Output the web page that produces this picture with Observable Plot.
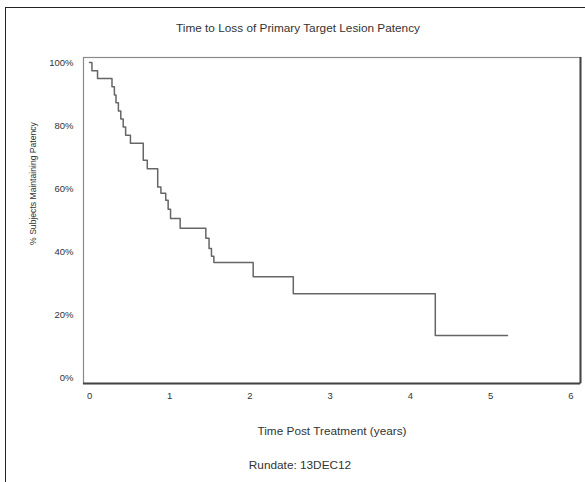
<!DOCTYPE html>
<html>
<head>
<meta charset="utf-8">
<script src="https://cdn.jsdelivr.net/npm/d3@7"></script>
<script src="https://cdn.jsdelivr.net/npm/@observablehq/plot@0.6"></script>
<style>
  html, body { margin: 0; padding: 0; background: #fff; }
  body { width: 585px; height: 482px; position: relative; overflow: hidden;
         font-family: "Liberation Sans", Arial, sans-serif; color: #333; }
  #page-border { position: absolute; left: 5px; top: 7px; width: 700px; height: 600px;
         border-left: 1.5px solid #222; border-top: 1.5px solid #222; z-index: 2; pointer-events: none; }
  #title { position: absolute; left: 0; top: 21px; width: 596px; text-align: center; font-size: 11.8px; }
  #chart { position: absolute; left: 0; top: 45px; }
  #rundate { position: absolute; left: 0; top: 458px; width: 600px; text-align: center; font-size: 11.8px; }
</style>
</head>
<body>
<div id="page-border"></div>
<div id="title">Time to Loss of Primary Target Lesion Patency</div>
<div id="chart"></div>
<div id="rundate">Rundate: 13DEC12</div>
<script>
// Kaplan–Meier estimate: time (years) and % of subjects maintaining patency
const years = [0, 0.03, 0.10, 0.28, 0.31, 0.33, 0.36, 0.39, 0.42, 0.45, 0.51,
               0.67, 0.72, 0.85, 0.89, 0.95, 0.98, 1.01, 1.13, 1.45, 1.49, 1.52, 1.55,
               2.04, 2.54, 4.31, 5.21];
const patency = [100, 97.4, 94.9, 92.3, 89.7, 87.2, 84.6, 82.1, 79.5, 76.9, 74.4,
                 69.0, 66.3, 60.5, 58.5, 56.3, 53.4, 50.5, 47.4, 44.2, 41.0, 38.5, 36.5,
                 32.0, 26.6, 13.3, 13.3];

const xTicks = [0, 1, 2, 3, 4, 5, 6];
const yTicks = [0, 20, 40, 60, 80, 100];
const xDomain = [-0.075, 6.12];
const yDomain = [-1.9, 101.6];

const xLabel = "Time Post Treatment (years)";
const yLabel = "% Subjects Maintaining Patency";

const curve = years.map((t, i) => ({t, s: patency[i]}));

const chart = Plot.plot({
  width: 585,
  height: 405,
  marginLeft: 83,
  marginRight: 5,
  marginTop: 12,
  marginBottom: 67,
  style: {fontFamily: '"Liberation Sans", Arial, sans-serif', fontSize: "9.5px", color: "#333", background: "transparent"},
  x: {domain: xDomain, ticks: xTicks, tickSize: 0, tickPadding: 9, label: null, tickFormat: d => String(d)},
  y: {domain: yDomain, ticks: yTicks, tickSize: 0, tickPadding: 10, label: null, tickFormat: d => d + "%"},
  marks: [
    Plot.frame({stroke: "#8a8a8a", strokeWidth: 1.2}),
    Plot.ruleY([yDomain[0]], {stroke: "#444", strokeWidth: 2}),
    Plot.ruleX([xDomain[1]], {stroke: "#444", strokeWidth: 2}),
    Plot.line(curve, {x: "t", y: "s", curve: "step-after", stroke: "#666", strokeWidth: 1.5}),
    Plot.text([xLabel], {frameAnchor: "bottom", dy: 51, fontSize: 11.8, fill: "#333"}),
    Plot.text([yLabel], {frameAnchor: "left", textAnchor: "middle", rotate: -90, dx: -50, dy: -37, fontSize: 8.6, fill: "#333"})
  ]
});
document.getElementById("chart").appendChild(chart);
</script>
</body>
</html>
